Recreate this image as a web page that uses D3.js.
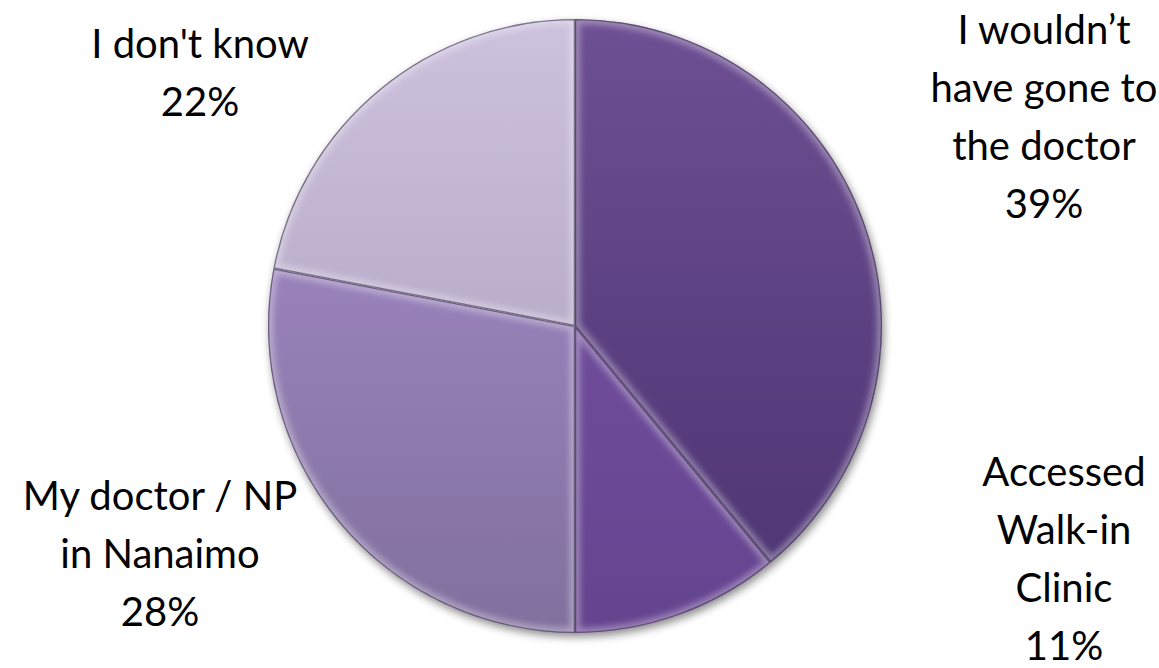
<!DOCTYPE html>
<html><head><meta charset="utf-8">
<script src="https://cdn.jsdelivr.net/npm/d3@7"></script>
<style>html,body{margin:0;padding:0;background:#fff;overflow:hidden}</style>
</head><body>
<svg id="chart" width="1159" height="668"></svg>
<script>
const categories = ["I wouldn’t have gone to the doctor", "Accessed Walk-in Clinic", "My doctor / NP in Nanaimo", "I don't know"];
const values = [39, 11, 28, 22];
const labelLines = [
  ["I wouldn’t", "have gone to", "the doctor", "39%"],
  ["Accessed", "Walk-in", "Clinic", "11%"],
  ["My doctor / NP", "in Nanaimo", "28%"],
  ["I don't know", "22%"]
];
const topColors = ["#6d4f93", "#7955a8", "#a98fce", "#cdc2de"];
const bottomColors = ["#4b3370", "#65448f", "#81709e", "#a699b6"];

const W = 1159, H = 668;
const cx = 575, cy = 326, r = 307;
const svg = d3.select("#chart");
const defs = svg.append("defs");

const sh = defs.append("filter").attr("id","shadow").attr("x","-20%").attr("y","-20%").attr("width","140%").attr("height","140%");
sh.append("feGaussianBlur").attr("in","SourceAlpha").attr("stdDeviation",4).attr("result","b");
sh.append("feOffset").attr("in","b").attr("dx",2).attr("dy",4).attr("result","o");
sh.append("feComponentTransfer").attr("in","o").append("feFuncA").attr("type","linear").attr("slope",0.45);

const bev = defs.append("filter").attr("id","bevel");
bev.append("feGaussianBlur").attr("stdDeviation",3);

values.forEach((v,i)=>{
  const g = defs.append("linearGradient").attr("id","g"+i)
    .attr("gradientUnits","userSpaceOnUse").attr("x1",0).attr("y1",-r).attr("x2",0).attr("y2",r);
  g.append("stop").attr("offset","0%").attr("stop-color",topColors[i]);
  g.append("stop").attr("offset","100%").attr("stop-color",bottomColors[i]);
});

const pie = d3.pie().sort(null).value(d=>d)(values);
const arc = d3.arc().innerRadius(0).outerRadius(r);

const root = svg.append("g").attr("transform",`translate(${cx},${cy})`);
root.append("circle").attr("r",r).attr("fill","#000").attr("filter","url(#shadow)");

pie.forEach((d,i)=>{
  defs.append("clipPath").attr("id","c"+i).append("path").attr("d",arc(d));
  root.append("path").attr("d",arc(d)).attr("fill",`url(#g${i})`);
  const gc = root.append("g").attr("clip-path",`url(#c${i})`);
  gc.append("path").attr("d",arc(d)).attr("fill","none")
    .attr("stroke","#ffffff").attr("stroke-opacity",0.35).attr("stroke-width",10).attr("filter","url(#bevel)");
  gc.append("path").attr("d",arc(d)).attr("fill","none")
    .attr("stroke","#2e2140").attr("stroke-opacity",0.55).attr("stroke-width",2.5);
});

const labelPos = [
  {x:1044, y:44},
  {x:1064, y:486},
  {x:160, y:510},
  {x:200, y:58}
];
const lh = 58;
labelLines.forEach((lines,i)=>{
  const t = svg.append("text").attr("text-anchor","middle")
    .attr("font-family","Lato, 'Open Sans', sans-serif").attr("font-size",40).attr("fill","#000");
  lines.forEach((s,j)=>{
    t.append("tspan").attr("x",labelPos[i].x).attr("y",labelPos[i].y + j*lh).text(s);
  });
});
</script>
</body></html>
